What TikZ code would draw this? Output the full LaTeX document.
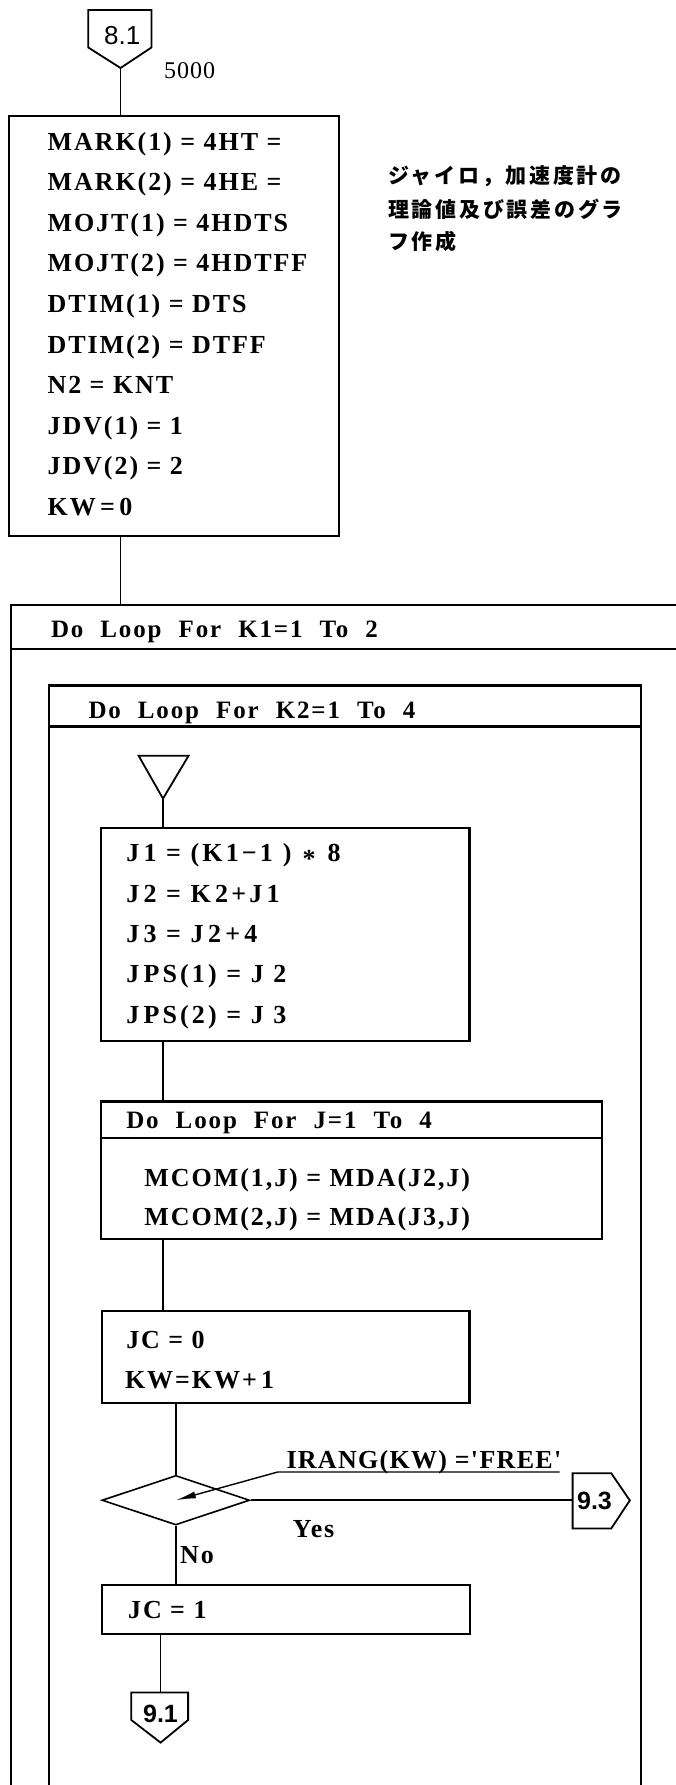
\documentclass[tikz,border=0pt]{standalone}
\usepackage{fontspec}
\usetikzlibrary{shapes.geometric,arrows.meta}
\newfontfamily\boxfont[LetterSpace=7.5]{Liberation Serif}
\newfontfamily\numfont[LetterSpace=4]{Liberation Serif}
\newfontfamily\confont{Liberation Sans}
\newfontfamily\jpfont[LetterSpace=13]{Noto Sans CJK JP}
\newcommand\widewords{\spaceskip=17pt\relax}

\tikzset{
  boxline/.style={draw, line width=2.2pt},
  flow/.style={line width=1.6pt},
  conn/.style={line width=1.8pt, line join=miter},
  procbox/.style={boxline, rectangle, anchor=north west, inner sep=0pt},
  row/.style={anchor=base west, inner sep=0pt,
    font=\boxfont\bfseries\fontsize{26}{30}\selectfont},
  hdr/.style={anchor=base west, inner sep=0pt,
    font=\boxfont\bfseries\fontsize{25}{30}\selectfont\widewords},
  jprow/.style={anchor=base west, inner sep=0pt,
    font=\jpfont\bfseries\fontsize{21}{24}\selectfont},
  conlabel/.style={inner sep=0pt, font=\confont\fontsize{26}{28}\selectfont},
  conlabelb/.style={inner sep=0pt, font=\confont\bfseries\fontsize{25}{28}\selectfont},
  decision/.style={draw, diamond, line width=1.6pt, inner sep=0pt,
    minimum width=147.7pt, minimum height=49.6pt},
}

\begin{document}
\begin{tikzpicture}[x=1pt,y=-1pt]
\useasboundingbox[fill=white] (0,0) rectangle (675,1785);

% entry connector 8.1
\coordinate (c81tip) at (120.5,68);
\draw[conn] (88.3,10) -- (151.5,10) -- (151.5,47.5) -- (c81tip) -- (88.3,47.5) -- cycle;
\node[conlabel] (c81) at (122.3,36) {8.1};
\node[anchor=base west, inner sep=0pt, font=\numfont\fontsize{24}{28}\selectfont] (lbl) at (164,78.5) {5000};

% initialisation block
\node[procbox, minimum width=330.3pt, minimum height=419.6pt] (init) at (7.7,115) {};
\foreach \t [count=\i from 0] in {{MARK(1) = 4HT =},{MARK(2) = 4HE =},{MOJT(1) = 4HDTS},
    {MOJT(2) = 4HDTFF},{DTIM(1) = DTS},{DTIM(2) = DTFF},{N2 = KNT},{JDV(1) = 1},
    {JDV(2) = 2},{KW\,=\,0}}
  \node[row] (init-\i) at (47.4,{150+40.6*\i}) {\t};

% comment
\node[jprow] (jp1) at (388,183.5) {ジャイロ，加速度計の};
\node[jprow] (jp2) at (388,217.7) {理論値及び誤差のグラ};
\node[jprow] (jp3) at (388,249.6) {フ作成};

\draw[flow] (c81tip) -- (c81tip |- init.north);

% outer loop K1
\node[procbox, minimum width=700pt, minimum height=1300pt] (loopA) at (10,603.6) {};
\draw[boxline] ([yshift=-45.7pt]loopA.north west) -- ([yshift=-45.7pt]loopA.north east);
\node[hdr] (loopA-h) at (50.8,637) {Do Loop For K1=1 To 2};
\draw[flow] (init.south -| c81tip) -- (loopA.north -| c81tip);

% inner loop K2
\node[procbox, minimum width=592pt, minimum height=1200pt] (loopB) at (48,684.3) {};
\draw[boxline] ([yshift=-42.1pt]loopB.north west) -- ([yshift=-42.1pt]loopB.north east);
\node[hdr] (loopB-h) at (88.3,718) {Do Loop For K2=1 To 4};

% return point
\coordinate (tri) at (163,798.6);
\draw[conn] (138.6,755.7) -- (188.6,755.7) -- (tri) -- cycle;

% index block
\node[procbox, minimum width=368.5pt, minimum height=212.5pt] (idx) at (99.9,827.1) {};
\foreach \t [count=\i from 0] in {{J\,1 = (K1−1\hspace{10pt})\hspace{11pt}\raisebox{-0.22em}{*}\hspace{12pt}8},
    {J\,2 = K\,2+J\,1},{J\,3 = J\,2\,+\,4},{J\,PS(1) = J 2},{J\,PS(2) = J 3}}
  \node[row] (idx-\i) at (126.1,{861.8+40.35*\i}) {\addfontfeatures{LetterSpace=12}\t};
\draw[flow] (tri) -- (tri |- idx.north);

% loop J
\node[procbox, minimum width=500.6pt, minimum height=137.6pt] (loopC) at (99.9,1100.3) {};
\draw[boxline] ([yshift=-37.9pt]loopC.north west) -- ([yshift=-37.9pt]loopC.north east);
\node[hdr] (loopC-h) at (126.1,1128.3) {Do Loop For J=1 To 4};
\node[row] (mcom-1) at (144.2,1186.3) {MCOM(1,J) = MDA(J2,J)};
\node[row] (mcom-2) at (144.2,1225.7) {MCOM(2,J) = MDA(J3,J)};
\draw[flow] (idx.south -| tri) -- (loopC.north -| tri);

% counters
\node[procbox, minimum width=367.7pt, minimum height=92.4pt] (cnt) at (100.7,1309.6) {};
\node[row] (cnt-1) at (126.1,1348.3) {JC = 0};
\node[row] (cnt-2) at (124.8,1388.5) {KW=KW+\,1};
\draw[flow] (loopC.south -| tri) -- (cnt.north -| tri);

% decision
\node[decision] (dec) at (175.85,1500.2) {};
\draw[flow] (cnt.south -| dec.north) -- (dec.north);

\coordinate (lead) at (277.7,1472);
\coordinate (leadend) at (559.7,1472);
\node[row] (cond) at (286.3,1468.3) {\addfontfeatures{LetterSpace=5}IRANG(KW) ='FREE'};
\draw[line width=1.4pt, -{Latex[length=20pt,width=7pt]}] (leadend) -- (lead) -- (dec.center);

% exit connector 9.3
\coordinate (c93in) at (572.6,1500.2);
\draw[conn] (572.6,1473.3) -- (611.3,1473.3) -- (629.8,1500.4) -- (611.3,1528.4) -- (572.6,1528.4) -- cycle;
\node[conlabelb] (c93) at (594.5,1500.5) {9.3};
\draw[flow] (dec.east) -- (c93in);
\node[row] (yes) at (292.7,1537) {Yes};
\node[row] (no) at (180,1563.7) {No};

% flag
\node[procbox, minimum width=368pt, minimum height=49.7pt] (flag) at (101.2,1583.5) {};
\node[row] (flag-1) at (127.9,1618.8) {JC = 1};
\draw[flow] (dec.south) -- (dec.south |- flag.north);

% exit connector 9.1
\coordinate (c91top) at (160.5,1692.5);
\draw[conn] (131.3,1692.5) -- (188.1,1692.5) -- (188.1,1720) -- (160.6,1742.6) -- (131.3,1720) -- cycle;
\node[conlabelb] (c91) at (160.5,1714) {9.1};
\draw[flow] (flag.south -| c91top) -- (c91top);
\end{tikzpicture}
\end{document}
